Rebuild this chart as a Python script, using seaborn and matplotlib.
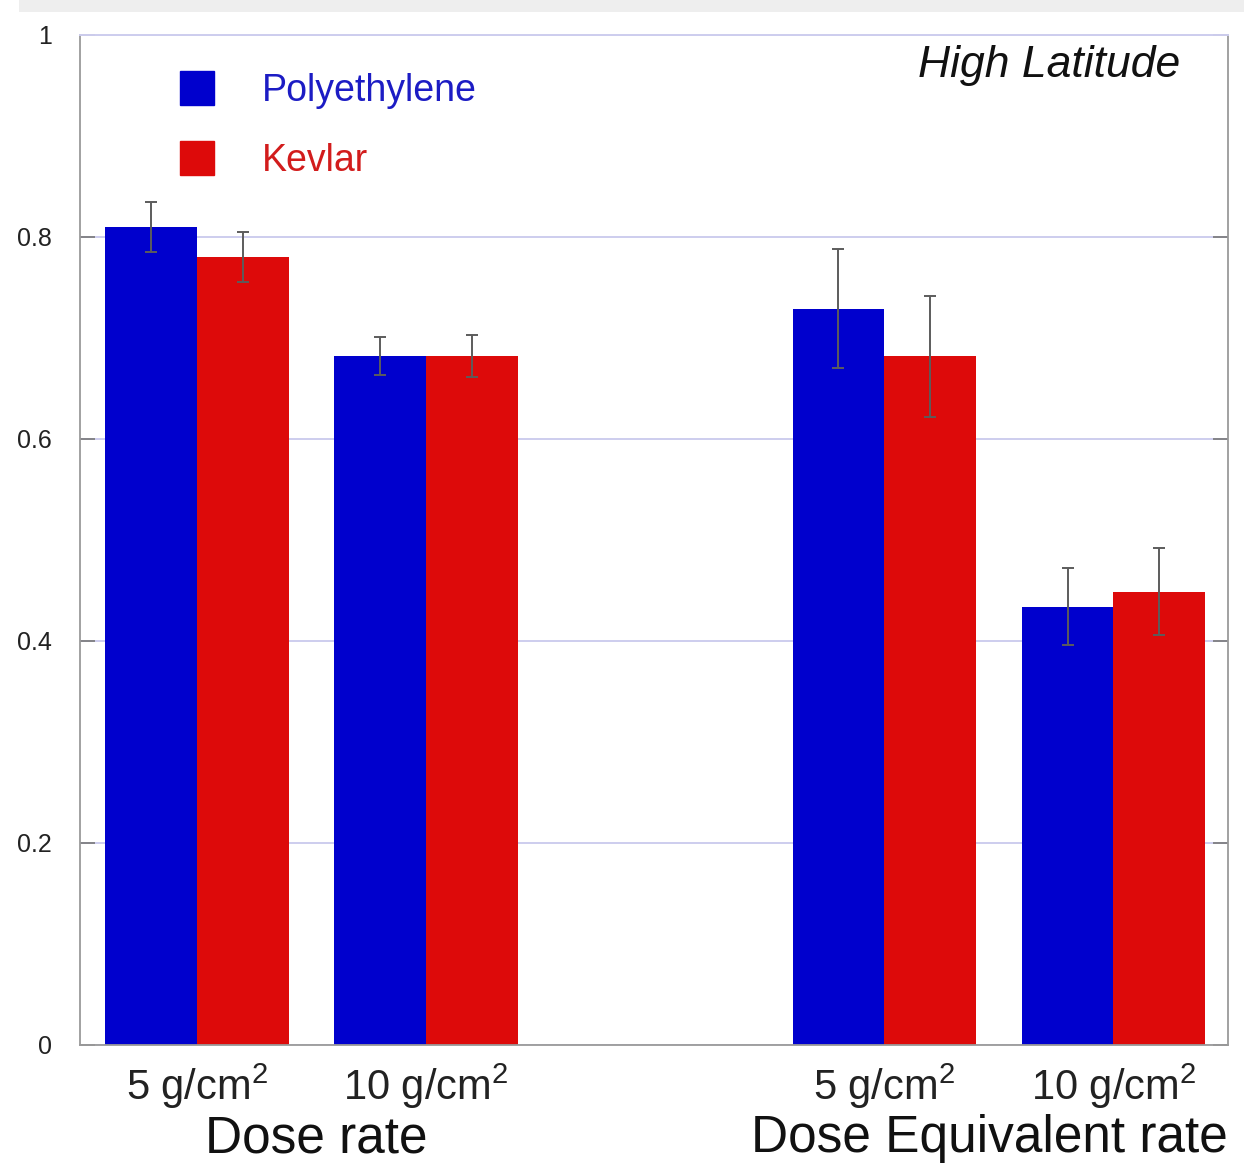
import numpy as np
import pandas as pd
import matplotlib
matplotlib.use("Agg")
import matplotlib.pyplot as plt
import matplotlib.transforms as mtransforms
from matplotlib.lines import Line2D
from matplotlib.patches import Rectangle
import seaborn as sns

# data
quantities = ["Dose rate", "Dose rate", "Dose Equivalent rate", "Dose Equivalent rate"]
thickness = ["5 g/cm$^2$", "10 g/cm$^2$", "5 g/cm$^2$", "10 g/cm$^2$"]
materials = ["Polyethylene", "Kevlar"]
poly_vals = [0.81, 0.682, 0.729, 0.434]
poly_err = [0.025, 0.019, 0.059, 0.038]
kevlar_vals = [0.78, 0.682, 0.682, 0.449]
kevlar_err = [0.025, 0.021, 0.060, 0.043]
yticks = [0, 0.2, 0.4, 0.6, 0.8, 1.0]
ytick_labels = ["0", "0.2", "0.4", "0.6", "0.8", "1"]

PALETTE = {"Polyethylene": "#0000cd", "Kevlar": "#dd0a0a"}
TEXT_COLORS = {"Polyethylene": "#1c1cc4", "Kevlar": "#d21c1c"}

keys = [f"{q} {t}" for q, t in zip(quantities, thickness)]
# empty slot between the two quantities
order = keys[:2] + ["gap"] + keys[2:]

rows = []
for mat, vals, errs in [("Polyethylene", poly_vals, poly_err), ("Kevlar", kevlar_vals, kevlar_err)]:
    for k, v, e in zip(keys, vals, errs):
        rows.append({"key": k, "material": mat, "value": v, "err": e})
df = pd.DataFrame(rows)

sns.set_theme(style="white")
plt.rcParams["font.family"] = ["Liberation Sans", "DejaVu Sans"]
plt.rcParams["mathtext.fontset"] = "custom"
plt.rcParams["mathtext.rm"] = "Liberation Sans"
plt.rcParams["mathtext.it"] = "Liberation Sans:italic"

fig = plt.figure(figsize=(12.44, 11.65), dpi=100)
ax = fig.add_axes([80 / 1244, 1 - 1045 / 1165, (1228 - 80) / 1244, (1045 - 35) / 1165])

sns.barplot(data=df, x="key", y="value", hue="material", order=order, hue_order=materials,
            palette=PALETTE, saturation=1, errorbar=None, width=0.8, ax=ax, legend=False,
            linewidth=0)

# error bars on bar centres
for cont, mat in zip(ax.containers, materials):
    sub = df[df["material"] == mat].copy()
    sub["pos"] = sub["key"].map(order.index)
    sub = sub.sort_values("pos")
    bars = sorted(cont.patches, key=lambda b: b.get_x())
    xs = [b.get_x() + b.get_width() / 2 for b in bars]
    ax.errorbar(xs, sub["value"].values, yerr=sub["err"].values, fmt="none",
                ecolor="#5c5c5c", elinewidth=1.4, capsize=4.5, capthick=1.4, zorder=3)

ax.set_xlim(-0.51, 4.5)
ax.set_ylim(0, 1)
ax.set_xticks([order.index(k) for k in keys])
ax.set_xticklabels(thickness, fontsize=30)
ax.set_yticks(yticks)
ax.set_yticklabels(ytick_labels, fontsize=18)
ax.set_xlabel("")
ax.set_ylabel("")
ax.tick_params(axis="x", length=0, pad=12, colors="#222222")
ax.tick_params(axis="y", direction="in", length=11, width=1.2, color="#777777",
               right=True, left=True, pad=20, labelcolor="#222222")

ax.yaxis.grid(True, color="#cdcdee", linewidth=1.4)
ax.set_axisbelow(True)
for side in ["left", "right", "bottom"]:
    ax.spines[side].set_color("#9a9a9a")
    ax.spines[side].set_linewidth(1.3)
ax.spines["top"].set_color("#cdcdee")
ax.spines["top"].set_linewidth(1.4)

# group titles under the ticks
trans = mtransforms.blended_transform_factory(ax.transData, ax.transAxes)
ax.text(0.52, -0.093, quantities[0], transform=trans, ha="center", va="center",
        fontsize=37, color="#111111")
ax.text(1.0, -0.093, quantities[2], transform=ax.transAxes, ha="right", va="center",
        fontsize=37, color="#111111")

ax.text(0.958, 0.97, "High Latitude", transform=ax.transAxes, ha="right", va="center",
        fontsize=32, style="italic", color="#111111")

handles = [Line2D([], [], marker="s", linestyle="none", markersize=25,
                  color=PALETTE[m]) for m in materials]
ax.legend(handles, materials, loc="upper left", bbox_to_anchor=(0.087, 0.962),
          frameon=False, fontsize=27, handlelength=0.93, handletextpad=1.25,
          labelspacing=0.89, borderpad=0, borderaxespad=0,
          labelcolor=[TEXT_COLORS[m] for m in materials])

# light strip at the top of the screenshot
fig.add_artist(Rectangle((0.015, 1 - 12 / 1165), 0.985, 12 / 1165,
                         transform=fig.transFigure, color="#eeeeee", lw=0))

fig.savefig("out.png", dpi=100)
